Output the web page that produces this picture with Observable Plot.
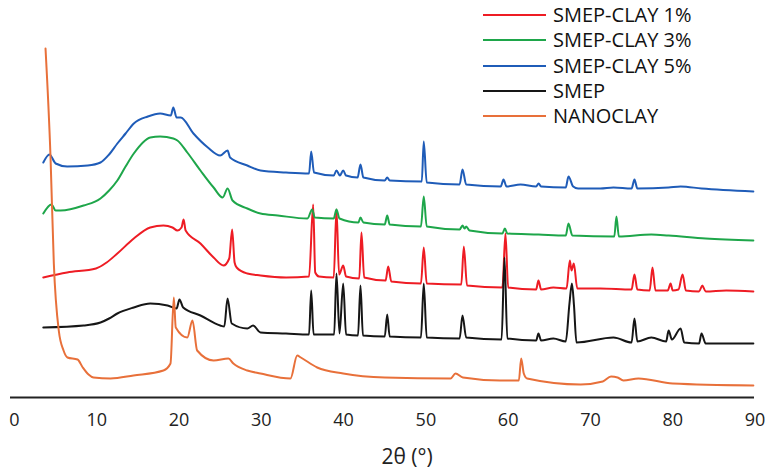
<!DOCTYPE html>
<html>
<head>
<meta charset="utf-8">
<script src="https://cdn.jsdelivr.net/npm/d3@7"></script>
<script src="https://cdn.jsdelivr.net/npm/@observablehq/plot@0.6"></script>
<style>
  html, body { margin: 0; padding: 0; background: #fff; }
  #wrap { position: relative; width: 768px; height: 473px; font-family: "Open Sans", sans-serif; }
  #legend { position: absolute; left: 483px; top: 0; }
  .lg-row { position: absolute; left: 0; height: 26px; display: flex; align-items: center; white-space: nowrap; }
  .lg-sw { width: 63px; height: 2px; margin-right: 7px; }
  .lg-tx { font-size: 20px; color: #111; line-height: 26px; }
  #xtitle { position: absolute; left: 0; width: 814px; text-align: center; top: 441px; font-size: 21px; color: #222; line-height: 30px; }
</style>
</head>
<body>
<div id="wrap">
  <div id="chart"></div>
  <div id="legend"></div>
  <div id="xtitle"></div>
</div>
<script>
// Series names and colours (legend order)
const seriesNames = ["SMEP-CLAY 1%", "SMEP-CLAY 3%", "SMEP-CLAY 5%", "SMEP", "NANOCLAY"];
const seriesColors = ["#ee1c24", "#1ea64a", "#1f5cb8", "#161616", "#e8703a"];
const xTicks = [0, 10, 20, 30, 40, 50, 60, 70, 80, 90];
const xTitle = "2θ (°)";

// 2θ (deg) and stacked intensity (a.u.)
const clay1X = [3.5, 6.4, 9.9, 11.2, 12.5, 14.5, 16.5, 18.1, 19.2, 19.8, 20.3, 20.55, 20.8, 22.6, 24.2, 25.4, 26.1, 26.45, 26.75, 27.0, 28.3, 29.9, 33, 35.8, 36.3, 36.55, 37, 38.8, 39.13, 39.45, 39.95, 40.3, 41.9, 42.17, 42.5, 45.1, 45.42, 45.8, 49.4, 49.74, 50.1, 54.3, 54.61, 55.0, 59.3, 59.67, 60.0, 63.4, 63.68, 64.0, 65.5, 67.1, 67.49, 67.7, 67.98, 68.4, 71.2, 75.0, 75.35, 75.7, 77.2, 77.54, 77.9, 79.4, 79.74, 80.0, 80.7, 81.2, 81.6, 83.2, 83.6, 84.0, 86.5, 89.8];
const clay1Y = [120, 125, 129, 135, 144, 159, 170, 172, 170, 167, 170, 178, 167, 154, 140, 132, 139, 168, 135, 130, 124, 122, 120, 121, 193, 125, 121, 120, 188, 123, 132, 121, 119, 165, 120, 117, 131, 116, 114, 150, 114, 113, 151, 112, 110, 164, 110, 108, 117, 108, 110, 109, 137, 127, 134, 109, 109, 108, 123, 108, 107, 130, 107, 107, 114, 107, 108, 123, 107, 106, 112, 106, 107, 106];

const clay3X = [3.5, 4.5, 5.0, 5.6, 8.4, 10.45, 11.5, 12.5, 13.5, 14.5, 16.5, 17.7, 19.3, 19.8, 21.0, 22.6, 24.2, 25.3, 25.9, 26.5, 28.3, 29.9, 32, 35.6, 36.18, 36.5, 38.8, 39.13, 39.5, 41.8, 42.05, 42.4, 45.0, 45.3, 45.6, 49.4, 49.74, 50.1, 54.1, 54.45, 54.7, 54.9, 55.3, 59.3, 59.6, 59.9, 63.7, 67.0, 67.33, 67.8, 72.9, 73.16, 73.45, 77.4, 79.5, 84, 89.8];
const clay3Y = [184, 193, 187, 187, 192, 199, 207, 217, 231, 244, 260, 261, 259, 257, 245, 227, 210, 200, 209, 197, 189, 184, 182, 179, 188, 180, 179, 188, 179, 175, 180, 175, 173, 182, 173, 171, 201, 171, 168, 172, 169, 171, 167, 164, 169, 164, 163, 162, 174, 162, 161, 181, 161, 163, 162, 159, 157];

const clay5X = [3.5, 4.25, 5.0, 6.4, 8.9, 10.45, 11.5, 12.5, 13.5, 14.5, 16.2, 17.7, 19.0, 19.3, 19.7, 20.2, 21.75, 23.5, 25.0, 25.9, 26.2, 28.3, 29.9, 33, 35.8, 36.06, 36.4, 38.8, 39.13, 39.55, 39.95, 40.3, 41.7, 42.05, 42.4, 45.0, 45.3, 45.6, 49.5, 49.74, 50.1, 54.1, 54.45, 54.9, 59.1, 59.43, 59.8, 61.5, 63.4, 63.7, 64.0, 67.0, 67.33, 67.9, 68.5, 71.2, 72.8, 75.0, 75.35, 75.7, 79.5, 80.96, 83.5, 89.8];
const clay5Y = [235, 243, 234, 231, 232, 235, 243, 254, 264, 274, 281, 284, 282, 290, 280, 280, 264, 250, 242, 247, 240, 232, 227, 225, 224, 246, 225, 222, 227, 222, 227, 222, 220, 233, 220, 217, 220, 217, 216, 256, 215, 213, 228, 213, 211, 218, 211, 213, 211, 214, 211, 210, 221, 211, 209, 209, 210, 209, 218, 209, 210, 211, 209, 206];

const smepX = [3.5, 8.4, 10.45, 11.5, 12.5, 14.5, 16.5, 18.6, 19.7, 20.05, 20.5, 22.6, 25.0, 25.5, 25.89, 26.4, 28.3, 29.0, 29.9, 33, 35.8, 36.06, 36.35, 38.85, 39.13, 39.5, 39.95, 40.3, 41.75, 42.05, 42.35, 45.0, 45.3, 45.6, 49.4, 49.74, 50.1, 54.1, 54.45, 54.9, 59.2, 59.55, 59.9, 63.4, 63.68, 64.0, 65.5, 67.0, 67.45, 67.75, 68.0, 68.3, 72.8, 75.0, 75.35, 75.7, 77.4, 79.2, 79.5, 79.9, 80.96, 81.4, 83.2, 83.5, 84.0, 89.8];
const smepY = [70, 72, 75, 79, 84, 90, 94, 92, 89, 98, 90, 82, 72, 71, 99, 74, 69, 72, 65, 64, 63, 107, 63, 63, 124, 64, 114, 63, 62, 112, 62, 61, 83, 61, 60, 114, 60, 59, 82, 60, 58, 140, 59, 57, 64, 57, 59, 56, 94, 114, 92, 55, 60, 55, 79, 56, 60, 56, 67, 58, 69, 55, 54, 64, 54, 54];

const nanoX = [3.77, 4.38, 4.78, 5.38, 5.96, 6.44, 7.66, 8.3, 9.0, 9.6, 11.67, 14.46, 18.1, 18.96, 19.36, 19.6, 21.0, 21.63, 22.2, 24.2, 26.0, 26.6, 28.3, 29.9, 33.54, 34.36, 34.8, 36.79, 39.95, 45, 53.0, 53.6, 54.5, 59.0, 61.3, 61.58, 61.9, 62.3, 68.8, 71.5, 72.5, 73.3, 74.0, 75.84, 80, 89.8];
const nanoY = [349, 240, 134, 67, 47, 40, 38, 30, 23, 20, 19, 22, 27, 34, 100, 70, 60, 77, 47, 37, 39, 34, 27, 24, 19, 42, 40, 30, 24, 20, 19, 24, 20, 17, 17, 39, 24, 19, 13, 16, 21, 20, 17, 19, 14, 12];

const seriesX = [clay1X, clay3X, clay5X, smepX, nanoX];
const seriesY = [clay1Y, clay3Y, clay5Y, smepY, nanoY];

const rows = [];
seriesNames.forEach((name, s) => {
  seriesX[s].forEach((x, i) => rows.push({series: name, x, y: seriesY[s][i]}));
});

const chart = Plot.plot({
  width: 768,
  height: 473,
  marginTop: 0,
  marginLeft: 10,
  marginRight: 14,
  marginBottom: 76,
  style: {fontFamily: "'Open Sans', sans-serif", background: "#fff", overflow: "visible"},
  x: {domain: [0, 90], range: [14, 754.5], ticks: xTicks, label: null},
  y: {domain: [0, 397], axis: null},
  color: {domain: seriesNames, range: seriesColors},
  marks: [
    Plot.lineY(rows, {x: "x", y: "y", z: "series", stroke: "series", strokeWidth: 2, strokeLinejoin: "round", curve: "monotone-x"}),
    Plot.ruleY([0], {stroke: "#222", strokeWidth: 2.2}),
    Plot.axisX({ticks: xTicks, tickSize: 0, tickPadding: 16, fontSize: 18, fill: "#222", label: null})
  ]
});
document.getElementById("chart").appendChild(chart);

// legend
const lg = document.getElementById("legend");
seriesNames.forEach((name, i) => {
  const row = document.createElement("div");
  row.className = "lg-row";
  row.style.top = (2 + i * 25.25) + "px";
  const sw = document.createElement("div");
  sw.className = "lg-sw";
  sw.style.background = seriesColors[i];
  const tx = document.createElement("span");
  tx.className = "lg-tx";
  tx.textContent = name;
  row.appendChild(sw); row.appendChild(tx);
  lg.appendChild(row);
});
document.getElementById("xtitle").textContent = xTitle;
</script>
</body>
</html>
